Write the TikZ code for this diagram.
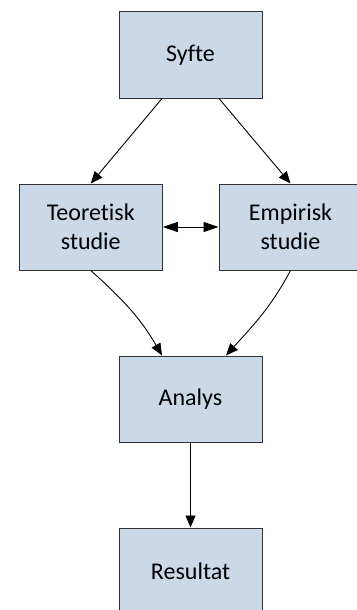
\documentclass[tikz,border=0pt]{standalone}
\usepackage{fontspec}
\setmainfont{Carlito}[Ligatures=NoCommon,Contextuals=NoAlternate]
\usetikzlibrary{arrows.meta}
\definecolor{boxfill}{RGB}{202,216,232}
\definecolor{boxline}{RGB}{50,50,50}
\tikzset{
  stage/.style={draw=boxline, fill=boxfill, line width=1pt, rectangle,
    minimum width=143pt, minimum height=86pt, inner sep=0pt,
    align=center, font=\fontsize{24pt}{29.5pt}\selectfont},
  link/.style={draw=black, line width=0.9pt, -{Triangle[length=12pt,width=10pt]}},
  twoway/.style={draw=black, line width=0.9pt,
    {Triangle[length=15pt,width=10pt]}-{Triangle[length=15pt,width=10pt]}},
}
\begin{document}
\begin{tikzpicture}[x=1pt,y=-1pt]
  \useasboundingbox (0,0) rectangle (356,610);

  \node[stage] (syfte)   at (190.5,55)  {Syfte};
  \node[stage] (teori)   at (90.8,227)  {Teoretisk\\studie};
  \node[stage] (empiri)  at (290.5,227) {Empirisk\\studie};
  \node[stage] (analys)  at (190.5,399) {Analys};
  \node[stage] (result)  at (190.5,571) {Resultat};

  \draw[link] ([xshift=-28.5pt]syfte.south) -- (teori.north);
  \draw[link] ([xshift=28.5pt]syfte.south) -- (empiri.north);
  \draw[twoway] (teori.east) -- (empiri.west);
  \draw[link] (teori.south) to[out=-42, in=120] ([xshift=-28.5pt]analys.north);
  \draw[link] (empiri.south) to[out=-118, in=48] ([xshift=35.5pt]analys.north);
  \draw[link] (analys.south) -- (result.north);
\end{tikzpicture}
\end{document}
